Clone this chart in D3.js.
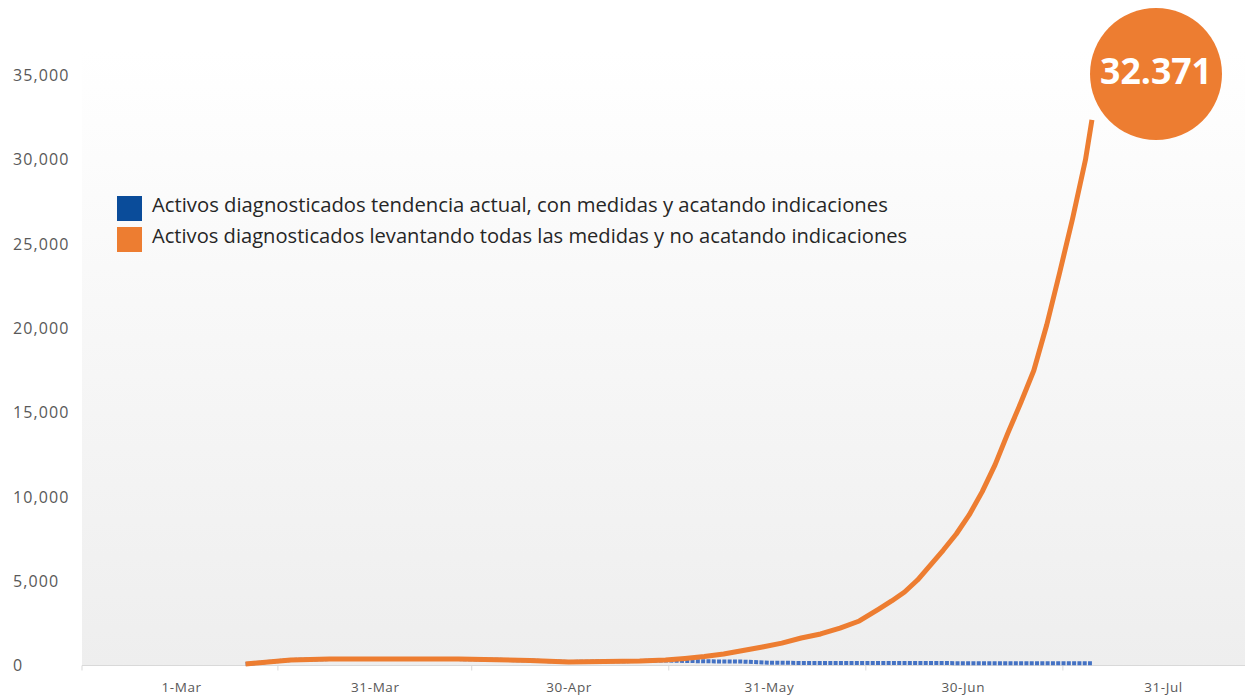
<!DOCTYPE html>
<html><head><meta charset="utf-8">
<script src="https://cdn.jsdelivr.net/npm/d3@7"></script>
<style>
html,body{margin:0;padding:0;background:#fff;}
svg{display:block;}
</style></head>
<body>
<svg id="chart" width="1245" height="696"></svg>
<script>
// ---- data ----
const labelDates = ["2020-03-01","2020-03-31","2020-04-30","2020-05-31","2020-06-30","2020-07-31"];
const yTicks = [0,5000,10000,15000,20000,25000,30000,35000];

const orangeDates = ["2020-03-11","2020-03-18","2020-03-24","2020-04-13","2020-04-24","2020-04-30","2020-05-11","2020-05-15","2020-05-18","2020-05-21","2020-05-24","2020-05-27","2020-05-30","2020-06-02","2020-06-05","2020-06-08","2020-06-11","2020-06-14","2020-06-17","2020-06-19","2020-06-21","2020-06-23","2020-06-25","2020-06-27","2020-06-29","2020-07-01","2020-07-03","2020-07-05","2020-07-07","2020-07-09","2020-07-11","2020-07-13","2020-07-15","2020-07-17","2020-07-19","2020-07-20"];
const orangeValues = [90,330,380,380,300,210,270,330,420,530,680,890,1100,1330,1630,1870,2220,2640,3350,3830,4360,5070,5960,6850,7800,8930,10300,11900,13800,15600,17500,20200,23300,26500,30000,32371];

const blueDates = ["2020-03-11","2020-03-18","2020-03-24","2020-04-13","2020-04-24","2020-04-30","2020-05-11","2020-05-15","2020-05-18","2020-05-21","2020-05-24","2020-05-27","2020-05-31","2020-06-05","2020-06-15","2020-06-30","2020-07-10","2020-07-20"];
const blueValues = [90,330,380,380,300,210,270,300,270,250,240,230,170,150,150,140,135,130];

const seriesNames = ["Activos diagnosticados tendencia actual, con medidas y acatando indicaciones",
                     "Activos diagnosticados levantando todas las medidas y no acatando indicaciones"];
const seriesColors = ["#4472C4","#ED7D31"];
const legendColors = ["#0A4C9A","#ED7D31"];
const bubbleText = "32.371";

// ---- layout ----
const svg = d3.select("#chart");
const parse = d3.timeParse("%Y-%m-%d");
const plotLeft = 82, plotRight = 1245, plotTop = 50, baseY = 665.5;

const x = d3.scaleTime().domain([parse(labelDates[0]), parse(labelDates[labelDates.length-1])]).range([181,1163]);
const y = d3.scaleLinear().domain([0,35000]).range([baseY, 75.5]);

// background gradient
const defs = svg.append("defs");
const grad = defs.append("linearGradient").attr("id","bg").attr("x1",0).attr("y1",0).attr("x2",0).attr("y2",1);
grad.append("stop").attr("offset","0%").attr("stop-color","#ffffff");
grad.append("stop").attr("offset","100%").attr("stop-color","#eeeeee");
svg.append("rect").attr("x",plotLeft).attr("y",plotTop).attr("width",plotRight-plotLeft).attr("height",baseY-plotTop).attr("fill","url(#bg)");

// y axis labels
svg.append("g").selectAll("text").data(yTicks).join("text")
  .attr("x",13).attr("y",d=>y(d)).attr("dy","0.35em")
  .attr("font-family","'Open Sans', sans-serif").attr("font-size",16).attr("letter-spacing",1.1).attr("fill","#595959")
  .text(d3.format(","));

// x axis baseline + ticks between labels
svg.append("line").attr("x1",plotLeft).attr("x2",plotRight).attr("y1",baseY).attr("y2",baseY).attr("stroke","#d9d9d9").attr("stroke-width",1);
const ld = labelDates.map(parse);
const tickDates = [x.invert(plotLeft)];
for (let i=0;i<ld.length-1;i++) tickDates.push(new Date((ld[i].getTime()+ld[i+1].getTime())/2));
svg.append("g").selectAll("line").data(tickDates).join("line")
  .attr("x1",d=>x(d)).attr("x2",d=>x(d)).attr("y1",baseY).attr("y2",baseY+5)
  .attr("stroke","#d9d9d9");

const xAxis = d3.axisBottom(x).tickValues(ld).tickFormat(d3.timeFormat("%-d-%b")).tickSize(0).tickPadding(0);
const gx = svg.append("g").attr("transform",`translate(0,${baseY+26})`).call(xAxis);
gx.select(".domain").remove();
gx.selectAll("text").attr("font-family","'Open Sans', sans-serif").attr("font-size",13.5).attr("letter-spacing",0.6).attr("fill","#595959").attr("dy","0");

// lines
const line = d3.line().x(d=>x(d.date)).y(d=>y(d.value)).curve(d3.curveLinear);
const blue = blueDates.map((d,i)=>({date:parse(d), value:blueValues[i]}));
const orange = orangeDates.map((d,i)=>({date:parse(d), value:orangeValues[i]}));
svg.append("path").datum(blue).attr("d",line).attr("fill","none").attr("stroke",seriesColors[0])
  .attr("stroke-width",4).attr("stroke-dasharray","4,1.3");
svg.append("path").datum(orange).attr("d",line).attr("fill","none").attr("stroke",seriesColors[1])
  .attr("stroke-width",5).attr("stroke-linejoin","round");

// legend
const leg = svg.append("g");
const legTargets = [736, 756];
seriesNames.forEach((name,i)=>{
  const yy = 196 + i*31;
  leg.append("rect").attr("x",117).attr("y",yy).attr("width",25).attr("height",25).attr("fill",legendColors[i]);
  const t = leg.append("text").attr("x",152).attr("y",yy+16).attr("font-family","'Open Sans', sans-serif")
    .attr("font-size",19).attr("fill","#262626").text(name);
  const w = t.node().getComputedTextLength();
  t.attr("font-size", 19*legTargets[i]/w);
});

// bubble
svg.append("circle").attr("cx",1156).attr("cy",74).attr("r",66).attr("fill","#ED7D31");
const bt = svg.append("text").attr("x",1156).attr("y",84).attr("text-anchor","middle")
  .attr("font-family","'Open Sans', sans-serif").attr("font-weight",700).attr("font-size",36)
  .attr("fill","#ffffff").text(bubbleText);
const bw = bt.node().getComputedTextLength();
bt.attr("font-size", 36*112/bw);
</script>
</body></html>
